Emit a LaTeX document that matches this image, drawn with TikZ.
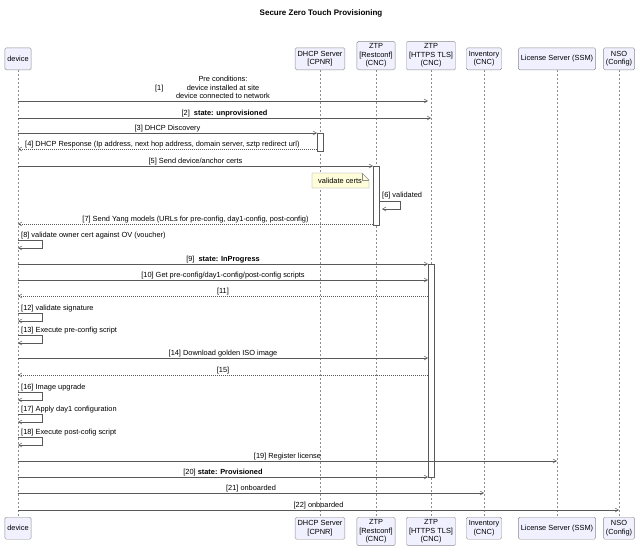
\documentclass[tikz,border=0pt]{standalone}
\usepackage{fontspec}
\setmainfont{Liberation Sans}
\usetikzlibrary{arrows.meta}
\begin{document}
\begin{tikzpicture}[x=1pt,y=-1pt,font=\fontsize{7.4}{8.4}\selectfont,
 part/.style={draw=black!45,fill=blue!6!white,rounded corners=1.5pt,align=center,inner sep=2.5pt,minimum height=22pt,anchor=south},
 life/.style={draw=black!45,dashed,dash pattern=on 2pt off 2pt,line width=0.4pt},
 msg/.style={draw=black!65,line width=0.5pt,-{Straight Barb[length=3.5pt,width=4pt]}},
 ret/.style={msg,dash pattern=on 1pt off 1pt},
 act/.style={draw=black!65,fill=white,line width=0.5pt},
 lbl/.style={inner sep=1pt,anchor=south}]
\useasboundingbox (0,0) rectangle (642,557);
\node[font=\fontsize{8}{9}\selectfont\bfseries] (title) at (321,13) {Secure Zero Touch Provisioning};
% participants top
\node[part] (dev) at (18,70) {device};
\node[part] (dhcp) at (320,70) {DHCP Server\\{[CPNR]}};
\node[part] (ztpr) at (376,70) {ZTP\\{[Restconf]}\\(CNC)};
\node[part] (ztph) at (431,70) {ZTP\\{[HTTPS TLS]}\\(CNC)};
\node[part] (inv) at (484,70) {Inventory\\(CNC)};
\node[part] (lic) at (557,70) {License Server (SSM)};
\node[part] (nso) at (619,70) {NSO\\(Config)};
% bottom
\node[part,anchor=north] (devb) at (18,517) {device};
\node[part,anchor=north] (dhcpb) at (320,517) {DHCP Server\\{[CPNR]}};
\node[part,anchor=north] (ztprb) at (376,517) {ZTP\\{[Restconf]}\\(CNC)};
\node[part,anchor=north] (ztphb) at (431,517) {ZTP\\{[HTTPS TLS]}\\(CNC)};
\node[part,anchor=north] (invb) at (484,517) {Inventory\\(CNC)};
\node[part,anchor=north] (licb) at (557,517) {License Server (SSM)};
\node[part,anchor=north] (nsob) at (619,517) {NSO\\(Config)};
\foreach \a/\b in {dev/devb,dhcp/dhcpb,ztpr/ztprb,ztph/ztphb,inv/invb,lic/licb,nso/nsob}
  \draw[life] (\a.south) -- (\b.north);
% activations
\draw[act] (317,133) rectangle (323,151);
\draw[act] (373,166) rectangle (379,225);
\draw[act] (428,264) rectangle (434,477);
% note
\path[draw=black!45,fill=yellow!15] (312,173) -- (362,173) -- (369,180) -- (369,188) -- (312,188) -- cycle;
\draw[black!45] (362,173) -- (362,180) -- (369,180);
\node (note) at (340,181) {validate certs};
% messages
\draw[msg] (dev |- 0,101) -- node[lbl,align=center,above=1pt] (l1) {Pre conditions:\\device installed at site\\device connected to network} (428,101);
\node[anchor=east] at ([xshift=-8pt,yshift=-1pt]l1.west |- 0,88) {[1]};
\draw[msg] (dev |- 0,118) -- node[lbl] {[2]\ \ \textbf{state: unprovisioned}} (ztph |- 0,118);
\draw[msg] (dev |- 0,133) -- node[lbl] {[3] DHCP Discovery} (317,133);
\draw[ret] (317,149) -- (dev |- 0,149);
\node[lbl,anchor=south west] at (24,149) {[4] DHCP Response (Ip address, next hop address, domain server, sztp redirect url)};
\draw[msg] (dev |- 0,166) -- node[lbl] {[5] Send device/anchor certs} (373,166);
\node[lbl,anchor=south west] at (381,200) {[6] validated};
\draw[msg] (379,201) -- (400,201) -- (400,209) -- (382,209);
\draw[ret] (373,224) -- node[lbl,pos=0.5] {[7] Send Yang models (URLs for pre-config, day1-config, post-config)} (dev |- 0,224);
\foreach \y/\t in {240/{[8] validate owner cert against OV (voucher)},313/{[12] validate signature},335/{[13] Execute pre-config script},392/{[16] Image upgrade},414/{[17] Apply day1 configuration},437/{[18] Execute post-cofig script}}{
  \node[lbl,anchor=south west] at (20,\y) {\t};
  \draw[msg] (dev |- 0,\y) -- (42,\y) -- (42,\y+8) -- (dev |- 0,\y+8);
}
\draw[msg] (dev |- 0,264) -- node[lbl] {[9]\ \ \textbf{state: InProgress}} (428,264);
\draw[msg] (dev |- 0,280) -- node[lbl] {[10] Get pre-config/day1-config/post-config scripts} (428,280);
\draw[ret] (428,296) -- node[lbl] {[11]} (dev |- 0,296);
\draw[msg] (dev |- 0,358) -- node[lbl] {[14] Download golden ISO image} (428,358);
\draw[ret] (428,375) -- node[lbl] {[15]} (dev |- 0,375);
\draw[msg] (dev |- 0,461) -- node[lbl] {[19] Register license} (lic |- 0,461);
\draw[msg] (dev |- 0,477) -- node[lbl] {[20] \textbf{state: Provisioned}} (428,477);
\draw[msg] (dev |- 0,493) -- node[lbl] {[21] onboarded} (inv |- 0,493);
\draw[msg] (dev |- 0,510) -- node[lbl] {[22] onboarded} (nso |- 0,510);
\end{tikzpicture}
\end{document}
